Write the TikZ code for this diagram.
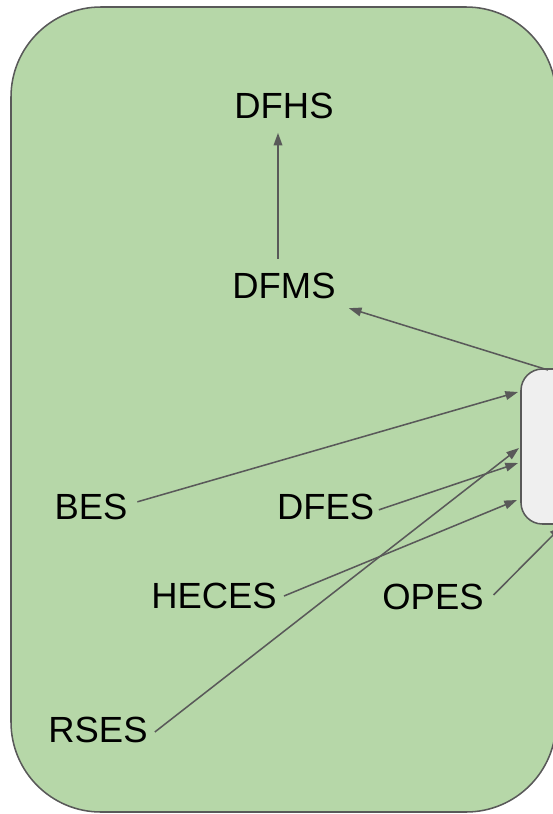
\documentclass[tikz,border=0pt]{standalone}
\usepackage{fontspec}
\setmainfont{Liberation Sans}
\usetikzlibrary{arrows.meta}
\definecolor{bggreen}{HTML}{B6D7A8}
\definecolor{edgegrey}{HTML}{595959}
\definecolor{boxgrey}{HTML}{EFEFEF}
\tikzset{
  lbl/.style={inner sep=5.25pt, font=\fontsize{27.3pt}{32pt}\selectfont, text=black},
  conn/.style={draw=edgegrey, line width=1.15pt, -{Triangle[length=9.5pt,width=6.5pt]}},
  frame/.style={draw=edgegrey, line width=1.15pt, fill=bggreen, rounded corners=67.5pt},
  hubbox/.style={draw=edgegrey, line width=1.15pt, fill=boxgrey, rounded corners=16pt}
}
\begin{document}
\begin{tikzpicture}[x=0.75pt,y=-0.75pt]
\useasboundingbox (0,0) rectangle (553,814);
\clip (0,0) rectangle (553,814);
\fill[white] (0,0) rectangle (553,814);
\draw[frame] (11,7) rectangle (556,812);
\draw[hubbox] (521,369) rectangle (660,524);
% text nodes
\node[lbl] (dfhs) at (284,106) {DFHS};
\node[lbl] (dfms) at (284,286) {DFMS};
\node[lbl] (bes) at (91,506.5) {BES};
\node[lbl] (dfes) at (325.7,506.5) {DFES};
\node[lbl] (heces) at (214,596) {HECES};
\node[lbl] (opes) at (433,597) {OPES};
\node[lbl] (rses) at (98,730) {RSES};
% connector ends on the hub box
\coordinate (hubtop) at (548,370);
\coordinate (hubbes) at (518,392);
\coordinate (hubrses) at (519,448);
\coordinate (hubdfes) at (518,463);
\coordinate (hubheces) at (517,500);
\coordinate (hubopes) at (562,526);
% connectors
\draw[conn] ([xshift=-4.5pt,yshift=5.5pt]dfms.north) -- ([xshift=-4.5pt,yshift=-5pt]dfhs.south);
\draw[conn] (hubtop) -- ([xshift=4.5pt,yshift=-1.5pt]dfms.south east);
\draw[conn] ([xshift=2pt,yshift=3.5pt]bes.east) -- (hubbes);
\draw[conn] ([xshift=-2pt,yshift=-2.5pt]dfes.east) -- (hubdfes);
\draw[conn] (heces.east) -- (hubheces);
\draw[conn] ([xshift=2pt,yshift=1.5pt]opes.east) -- (hubopes);
\draw[conn] ([yshift=-1.5pt]rses.east) -- (hubrses);
\end{tikzpicture}
\end{document}
